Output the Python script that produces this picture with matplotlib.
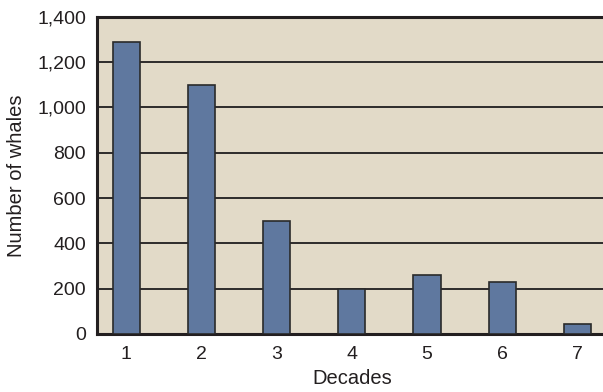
import matplotlib
matplotlib.use("Agg")
import matplotlib.pyplot as plt

decades = [1, 2, 3, 4, 5, 6, 7]
whales = [1290, 1100, 500, 200, 260, 230, 45]
yticks = [0, 200, 400, 600, 800, 1000, 1200, 1400]
ytick_labels = ["0", "200", "400", "600", "800", "1,000", "1,200", "1,400"]

plt.rcParams['font.family'] = ['Liberation Sans', 'DejaVu Sans']

fig = plt.figure(figsize=(6.03, 3.92), dpi=100)
ax = fig.add_axes([0.161, 0.148, 0.845, 0.809])
ax.set_facecolor('#e2dac8')

ax.set_axisbelow(True)
ax.yaxis.grid(True, color='#2e2b2b', linewidth=1.4)
ax.bar(decades, whales, width=0.36, color='#5f789f', edgecolor='#2a2a2a', linewidth=1.2, zorder=3)

ax.set_xlim(0.61, 7.39)
ax.set_ylim(0, 1400)
ax.set_yticks(yticks)
ax.set_yticklabels(ytick_labels)
ax.set_xticks(decades)
ax.set_xticklabels([str(d) for d in decades])
ax.tick_params(axis='both', length=0, labelsize=14, colors='#231f20')
ax.tick_params(axis='y', pad=8)
ax.tick_params(axis='x', pad=9)

for s in ['left', 'top', 'bottom']:
    ax.spines[s].set_color('#231f20')
    ax.spines[s].set_linewidth(2.2)
ax.spines['right'].set_visible(False)

ax.set_xlabel('Decades', fontsize=14.5, color='#231f20', labelpad=4)
ax.set_ylabel('Number of whales', fontsize=14.5, color='#231f20', labelpad=8)

fig.savefig('out.png', dpi=100)
